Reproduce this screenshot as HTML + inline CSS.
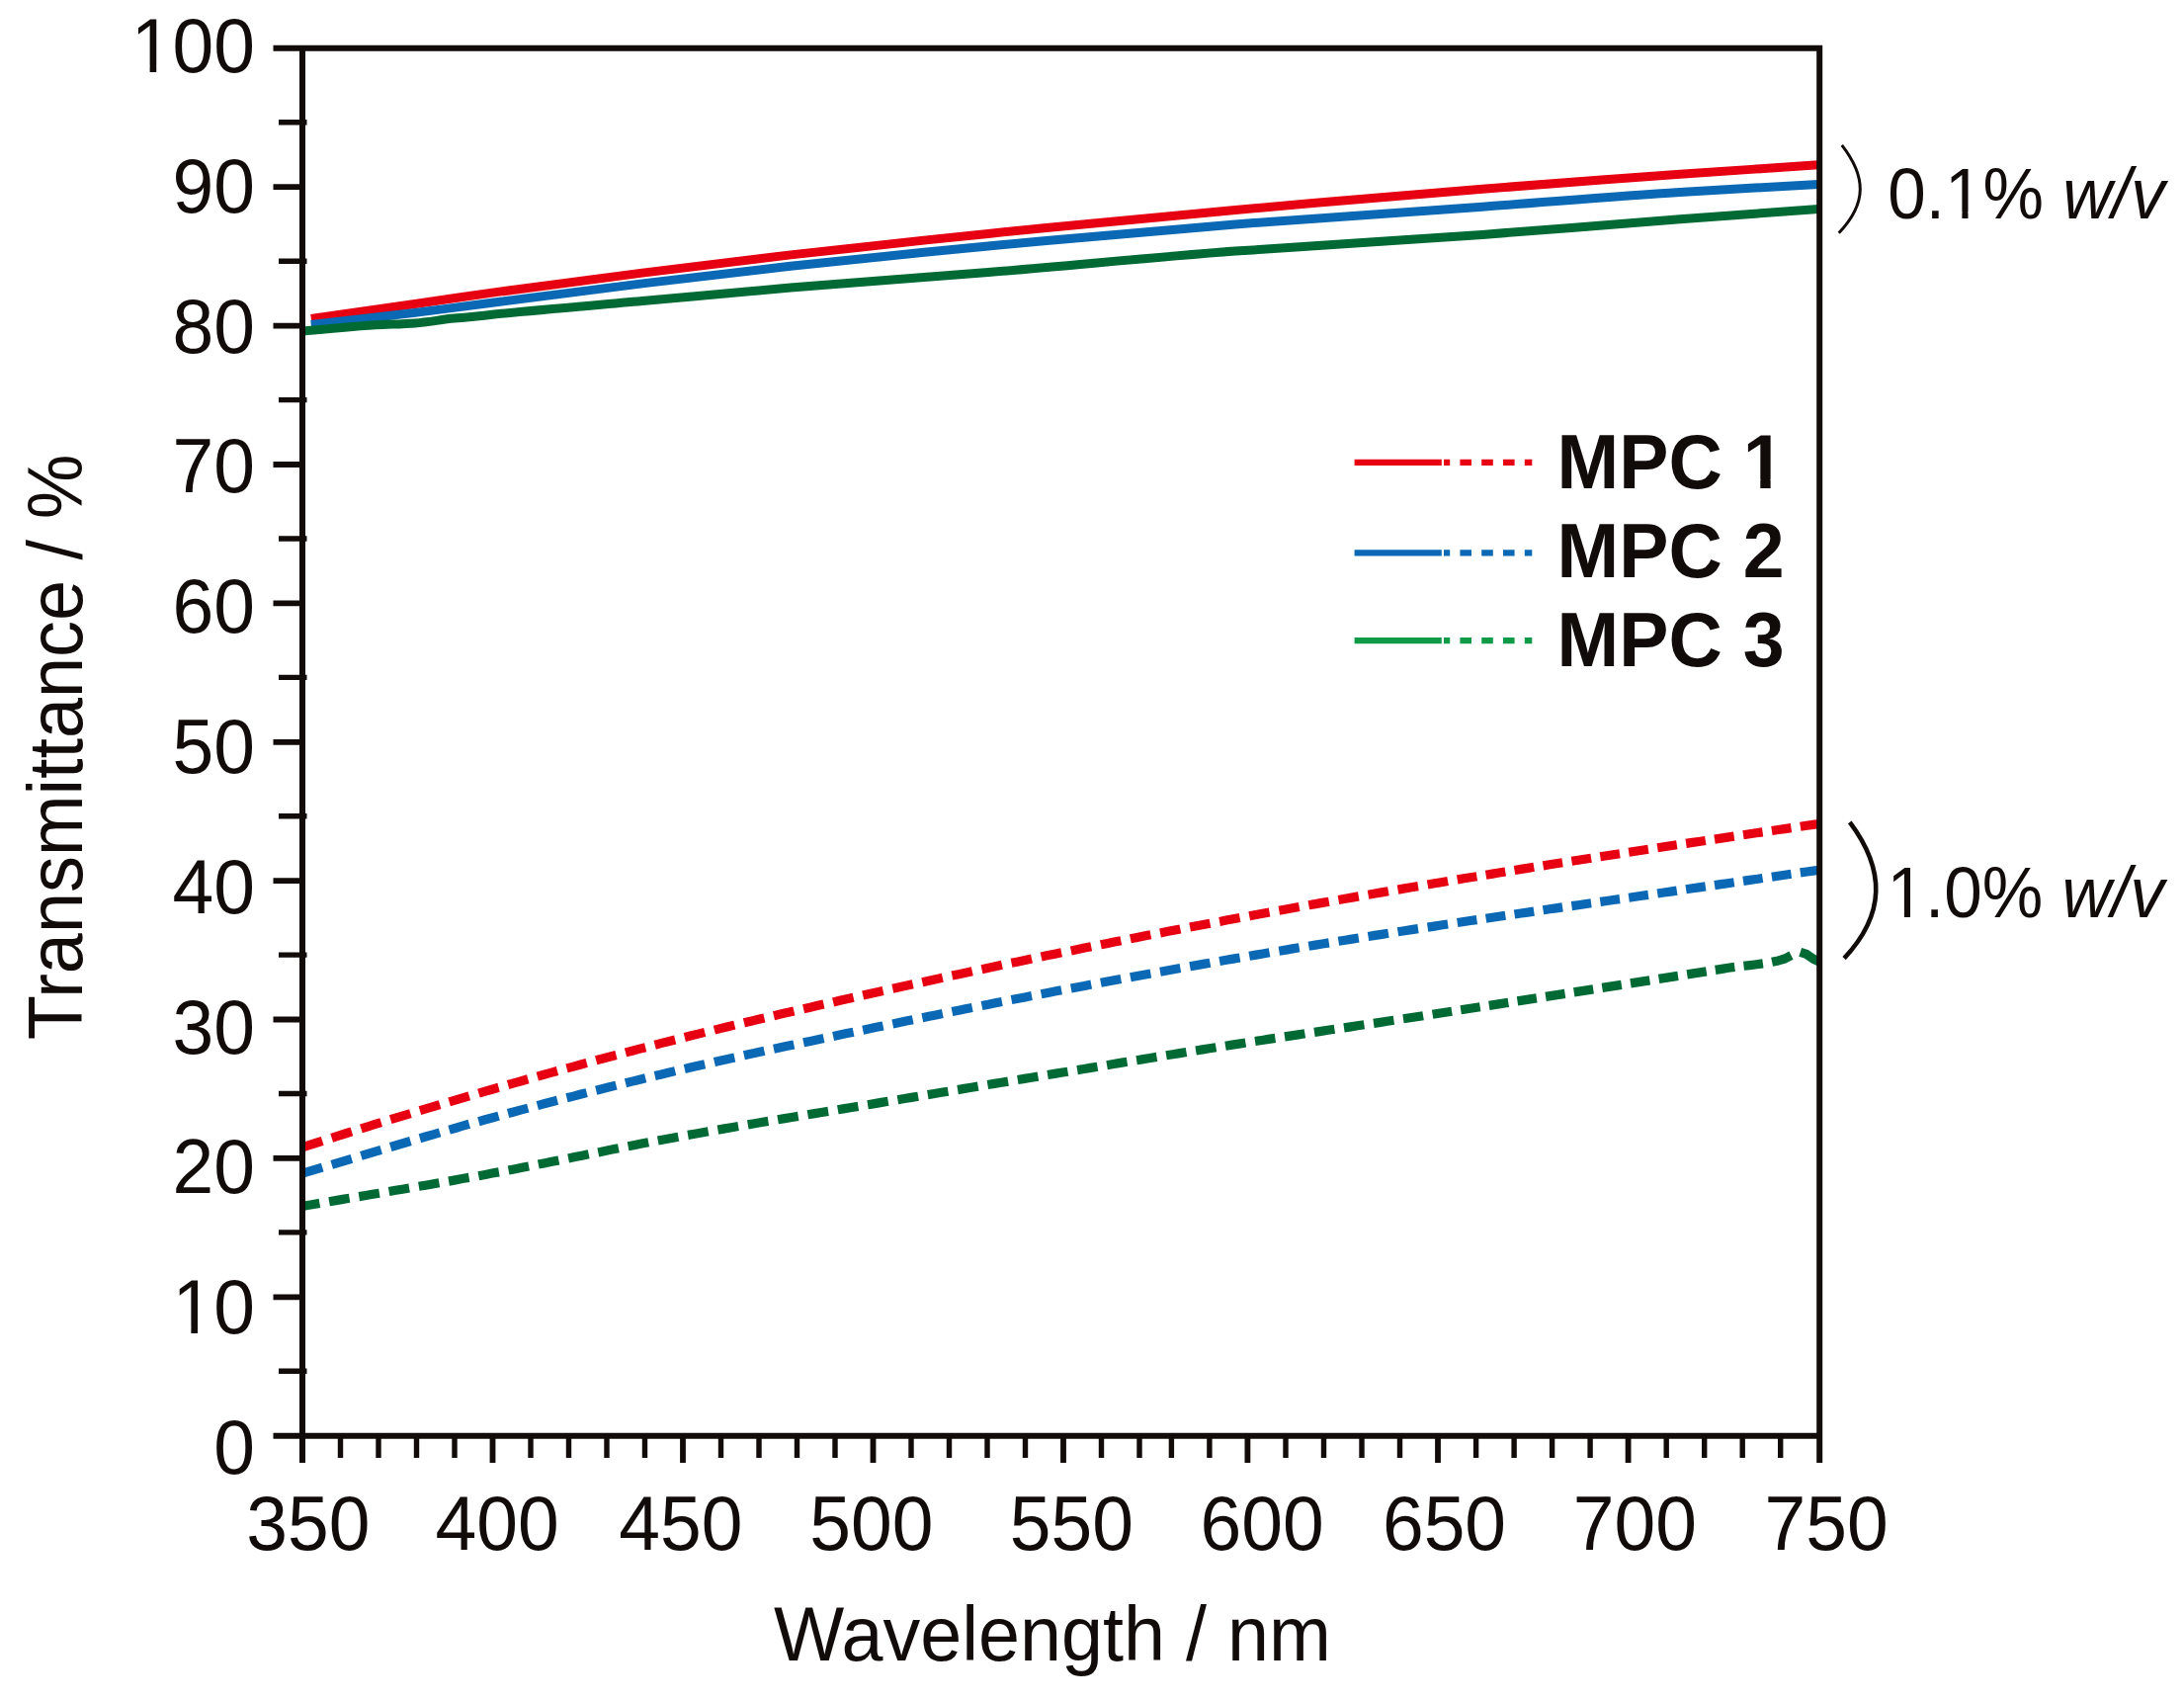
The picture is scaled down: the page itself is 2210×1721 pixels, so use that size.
<!DOCTYPE html>
<html lang="en">
<head>
<meta charset="utf-8">
<title>Transmittance vs Wavelength</title>
<style>
html,body{margin:0;padding:0;background:#fff;}
body{width:2210px;height:1721px;overflow:hidden;}
svg{display:block;}
</style>
</head>
<body>
<svg width="2210" height="1721" viewBox="0 0 2210 1721">
<rect width="2210" height="1721" fill="#fff"/>
<g fill="none" stroke-width="9">
<path d="M314.8,322.4 C349.9,317.4 384.9,312.5 420.0,307.5 C446.7,303.7 473.3,299.6 500.0,295.9 C550.0,288.9 600.0,282.4 650.0,276.1 C700.0,269.8 750.0,263.7 800.0,257.9 C866.7,250.2 933.3,243.2 1000.0,236.4 C1083.3,227.9 1166.7,220.0 1250.0,212.5 C1333.3,205.0 1416.7,197.8 1500.0,191.2 C1566.7,185.9 1633.3,181.0 1700.0,176.3 C1746.7,173.0 1793.3,170.0 1840.0,166.8 C1840.7,166.8 1841.3,166.7 1842.0,166.7" stroke="#e60012"/>
<path d="M314.8,328.5 C349.9,324.5 384.9,320.7 420.0,316.4 C446.7,313.1 473.3,309.4 500.0,306.0 C550.0,299.5 600.0,293.0 650.0,286.9 C700.0,280.8 750.0,274.8 800.0,269.3 C866.7,261.9 933.3,255.4 1000.0,249.0 C1083.3,241.0 1166.7,233.5 1250.0,226.9 C1333.3,220.3 1416.7,215.2 1500.0,209.2 C1566.7,204.4 1633.3,198.7 1700.0,194.5 C1746.7,191.5 1793.3,189.2 1840.0,186.6 C1840.7,186.6 1841.3,186.5 1842.0,186.5" stroke="#0b68b4"/>
<path d="M308.0,334.7 C310.3,334.5 312.5,334.4 314.8,334.2 C336.5,332.6 358.3,330.1 380.0,328.8 C393.3,328.0 406.7,328.0 420.0,326.9 C433.3,325.8 446.7,323.4 460.0,322.1 C466.7,321.4 473.3,320.9 480.0,320.2 C486.7,319.5 493.3,318.8 500.0,318.1 C550.0,312.9 600.0,309.1 650.0,304.6 C700.0,300.1 750.0,295.3 800.0,291.0 C866.7,285.3 933.3,280.9 1000.0,275.5 C1083.3,268.7 1166.7,260.4 1250.0,254.1 C1333.3,247.8 1416.7,243.5 1500.0,237.4 C1566.7,232.5 1633.3,226.8 1700.0,221.8 C1746.7,218.3 1793.3,215.0 1840.0,211.6 C1840.7,211.6 1841.3,211.5 1842.0,211.5" stroke="#006934"/>
</g>
<g fill="none" stroke-width="9.2" stroke-linejoin="round">
<path d="M306.0,1160.8 L312.7,1158.6 L319.5,1156.5 L326.2,1154.3M335.7,1151.3 L342.5,1149.1 L349.2,1147.0 L355.9,1144.9M365.4,1141.9 L372.2,1139.8 L378.9,1137.7 L385.7,1135.7M395.2,1132.7 L401.9,1130.7 L408.7,1128.6 L415.4,1126.6M424.9,1123.7 L431.6,1121.7 L438.4,1119.6 L445.1,1117.6M454.6,1114.8 L461.4,1112.8 L468.1,1110.8 L474.8,1108.9M484.4,1106.1 L491.1,1104.1 L497.8,1102.2 L504.6,1100.3M514.1,1097.5 L520.8,1095.6 L527.6,1093.7 L534.3,1091.8M543.8,1089.1 L550.5,1087.3 L557.3,1085.4 L564.0,1083.5M573.5,1080.9 L580.3,1079.1 L587.0,1077.2 L593.7,1075.4M603.2,1072.8 L610.0,1071.0 L616.7,1069.2 L623.5,1067.5M633.0,1064.9 L639.7,1063.2 L646.5,1061.4 L653.2,1059.7M662.7,1057.2 L669.5,1055.4 L676.3,1053.7 L683.2,1052.0M692.8,1049.5 L699.6,1047.8 L706.4,1046.1 L713.2,1044.4M722.9,1042.1 L729.7,1040.4 L736.5,1038.8 L743.3,1037.1M752.9,1034.8 L759.7,1033.2 L766.6,1031.6 L773.4,1030.0M783.0,1027.7 L789.8,1026.1 L796.6,1024.6 L803.4,1023.0M813.1,1020.8 L819.9,1019.2 L826.7,1017.6 L833.5,1016.1M843.1,1013.9 L849.9,1012.3 L856.8,1010.8 L863.6,1009.2M873.2,1007.1 L880.0,1005.5 L886.8,1004.0 L893.6,1002.5M903.3,1000.3 L910.1,998.8 L916.9,997.3 L923.7,995.8M933.3,993.7 L940.1,992.2 L947.0,990.7 L953.8,989.2M963.4,987.1 L970.2,985.7 L977.0,984.2 L983.8,982.7M993.5,980.7 L1000.3,979.2 L1007.1,977.8 L1013.9,976.3M1023.5,974.3 L1030.3,972.9 L1037.2,971.5 L1044.0,970.0M1053.6,968.1 L1060.4,966.6 L1067.3,965.2 L1074.1,963.8M1083.8,961.9 L1090.6,960.5 L1097.4,959.1 L1104.2,957.7M1113.9,955.8 L1120.7,954.4 L1127.5,953.0 L1134.3,951.7M1143.9,949.8 L1150.7,948.4 L1157.6,947.1 L1164.4,945.8M1174.0,943.9 L1180.8,942.6 L1187.6,941.3 L1194.4,939.9M1204.1,938.1 L1210.9,936.8 L1217.7,935.5 L1224.5,934.2M1234.1,932.4 L1240.9,931.1 L1247.8,929.8 L1254.6,928.5M1264.2,926.8 L1271.0,925.5 L1277.8,924.2 L1284.6,923.0M1294.3,921.2 L1301.1,920.0 L1307.9,918.8 L1314.7,917.5M1324.3,915.8 L1331.1,914.6 L1338.0,913.4 L1344.8,912.2M1354.4,910.5 L1361.2,909.3 L1368.0,908.1 L1374.8,906.9M1384.5,905.2 L1391.3,904.0 L1398.1,902.9 L1404.9,901.7M1414.5,900.1 L1421.3,898.9 L1428.2,897.7 L1435.0,896.6M1444.6,895.0 L1451.4,893.8 L1458.2,892.7 L1465.1,891.5M1474.7,889.9 L1481.3,888.8 L1487.8,887.7 L1494.4,886.7M1503.6,885.2 L1510.2,884.1 L1516.7,883.0 L1523.3,882.0M1532.5,880.5 L1539.1,879.4 L1545.7,878.4 L1552.2,877.3M1561.5,875.9 L1568.0,874.8 L1574.6,873.8 L1581.1,872.8M1590.4,871.3 L1597.0,870.3 L1603.5,869.3 L1610.1,868.2M1619.3,866.8 L1625.9,865.8 L1632.4,864.7 L1639.0,863.7M1648.2,862.3 L1654.8,861.3 L1661.4,860.3 L1667.9,859.3M1677.2,857.8 L1683.7,856.8 L1690.3,855.8 L1696.8,854.8M1706.1,853.4 L1712.7,852.4 L1719.2,851.5 L1725.8,850.5M1735.0,849.1 L1741.6,848.1 L1748.1,847.1 L1754.7,846.1M1764.0,844.8 L1770.5,843.8 L1777.1,842.8 L1783.6,841.9M1792.9,840.5 L1799.4,839.5 L1806.0,838.6 L1812.5,837.6M1821.8,836.3 L1828.2,835.3 L1834.6,834.4 L1841.0,833.5" stroke="#e60012"/>
<path d="M306.0,1187.1 L312.7,1185.1 L319.5,1183.1 L326.2,1181.1M335.7,1178.3 L342.5,1176.3 L349.2,1174.3 L355.9,1172.3M365.4,1169.4 L372.2,1167.4 L378.9,1165.4 L385.7,1163.4M395.2,1160.5 L401.9,1158.5 L408.7,1156.5 L415.4,1154.5M424.9,1151.7 L431.6,1149.8 L438.4,1147.8 L445.1,1145.8M454.6,1143.1 L461.4,1141.2 L468.1,1139.2 L474.8,1137.3M484.4,1134.7 L491.1,1132.8 L497.8,1131.0 L504.6,1129.1M514.1,1126.5 L520.8,1124.7 L527.6,1122.9 L534.3,1121.1M543.8,1118.6 L550.5,1116.8 L557.3,1115.0 L564.0,1113.3M573.5,1110.8 L580.3,1109.1 L587.0,1107.3 L593.7,1105.6M603.2,1103.2 L610.0,1101.5 L616.7,1099.8 L623.5,1098.1M633.0,1095.8 L639.7,1094.1 L646.5,1092.5 L653.2,1090.8M662.7,1088.5 L669.5,1086.9 L676.3,1085.3 L683.2,1083.6M692.8,1081.4 L699.6,1079.8 L706.4,1078.2 L713.2,1076.7M722.9,1074.5 L729.7,1072.9 L736.5,1071.4 L743.3,1069.9M752.9,1067.8 L759.7,1066.3 L766.6,1064.8 L773.4,1063.3M783.0,1061.2 L789.8,1059.8 L796.6,1058.3 L803.4,1056.9M813.1,1054.8 L819.9,1053.4 L826.7,1051.9 L833.5,1050.5M843.1,1048.5 L849.9,1047.0 L856.8,1045.6 L863.6,1044.2M873.2,1042.2 L880.0,1040.8 L886.8,1039.3 L893.6,1037.9M903.3,1035.9 L910.1,1034.5 L916.9,1033.1 L923.7,1031.7M933.3,1029.7 L940.1,1028.3 L947.0,1026.9 L953.8,1025.5M963.4,1023.6 L970.2,1022.2 L977.0,1020.8 L983.8,1019.5M993.5,1017.6 L1000.3,1016.2 L1007.1,1014.8 L1013.9,1013.5M1023.5,1011.6 L1030.3,1010.3 L1037.2,1008.9 L1044.0,1007.6M1053.6,1005.7 L1060.4,1004.4 L1067.3,1003.1 L1074.1,1001.8M1083.8,1000.0 L1090.6,998.7 L1097.4,997.4 L1104.2,996.1M1113.9,994.3 L1120.7,993.0 L1127.5,991.7 L1134.3,990.5M1143.9,988.7 L1150.7,987.4 L1157.6,986.2 L1164.4,985.0M1174.0,983.2 L1180.8,982.0 L1187.6,980.7 L1194.4,979.5M1204.1,977.8 L1210.9,976.6 L1217.7,975.4 L1224.5,974.2M1234.1,972.5 L1240.9,971.3 L1247.8,970.1 L1254.6,969.0M1264.2,967.3 L1271.0,966.1 L1277.8,965.0 L1284.6,963.8M1294.3,962.2 L1301.1,961.1 L1307.9,959.9 L1314.7,958.8M1324.3,957.2 L1331.1,956.1 L1338.0,955.0 L1344.8,953.9M1354.4,952.3 L1361.2,951.2 L1368.0,950.1 L1374.8,949.0M1384.5,947.5 L1391.3,946.4 L1398.1,945.4 L1404.9,944.3M1414.5,942.8 L1421.3,941.7 L1428.2,940.6 L1435.0,939.6M1444.6,938.1 L1451.4,937.1 L1458.2,936.0 L1465.1,935.0M1474.7,933.5 L1481.3,932.5 L1487.8,931.5 L1494.4,930.6M1503.6,929.2 L1510.2,928.2 L1516.7,927.3 L1523.3,926.3M1532.5,925.0 L1539.1,924.0 L1545.7,923.1 L1552.2,922.1M1561.5,920.8 L1568.0,919.8 L1574.6,918.9 L1581.1,917.9M1590.4,916.6 L1597.0,915.7 L1603.5,914.7 L1610.1,913.8M1619.3,912.4 L1625.9,911.5 L1632.4,910.5 L1639.0,909.6M1648.2,908.2 L1654.8,907.3 L1661.4,906.3 L1667.9,905.4M1677.2,904.0 L1683.7,903.0 L1690.3,902.1 L1696.8,901.1M1706.1,899.8 L1712.7,898.8 L1719.2,897.9 L1725.8,896.9M1735.0,895.6 L1741.6,894.6 L1748.1,893.7 L1754.7,892.7M1764.0,891.4 L1770.5,890.4 L1777.1,889.5 L1783.6,888.5M1792.9,887.2 L1799.4,886.2 L1806.0,885.2 L1812.5,884.3M1821.8,882.9 L1828.2,882.0 L1834.6,881.1 L1841.0,880.2" stroke="#0b68b4"/>
<path d="M305.0,1220.6 L311.1,1219.5 L317.2,1218.5 L323.4,1217.4M333.1,1215.8 L339.9,1214.6 L346.8,1213.4 L353.6,1212.3M363.3,1210.6 L370.2,1209.5 L377.0,1208.3 L383.9,1207.2M393.6,1205.5 L400.4,1204.3 L407.3,1203.2 L414.1,1202.0M423.8,1200.3 L430.7,1199.2 L437.5,1198.0 L444.4,1196.8M454.1,1195.1 L460.9,1193.9 L467.8,1192.6 L474.6,1191.4M484.3,1189.7 L491.2,1188.4 L498.0,1187.1 L504.9,1185.9M514.6,1184.0 L521.4,1182.7 L528.3,1181.3 L535.1,1180.0M544.8,1178.1 L551.7,1176.7 L558.5,1175.3 L565.4,1173.9M575.1,1172.0 L581.9,1170.6 L588.8,1169.2 L595.7,1167.8M605.3,1165.9 L612.2,1164.5 L619.1,1163.1 L625.9,1161.7M635.6,1159.8 L642.4,1158.5 L649.3,1157.1 L656.2,1155.8M665.8,1154.0 L672.7,1152.7 L679.6,1151.4 L686.4,1150.2M696.1,1148.4 L703.0,1147.2 L709.9,1146.0 L716.7,1144.8M726.4,1143.1 L733.3,1141.9 L740.2,1140.7 L747.1,1139.5M756.8,1137.9 L763.6,1136.7 L770.5,1135.5 L777.4,1134.4M787.1,1132.8 L794.0,1131.6 L800.9,1130.5 L807.7,1129.4M817.4,1127.8 L824.3,1126.6 L831.2,1125.5 L838.1,1124.4M847.8,1122.8 L854.6,1121.6 L861.5,1120.5 L868.4,1119.4M878.1,1117.7 L885.0,1116.6 L891.9,1115.4 L898.7,1114.3M908.4,1112.7 L915.3,1111.5 L922.2,1110.4 L929.1,1109.2M938.8,1107.6 L945.6,1106.5 L952.5,1105.3 L959.4,1104.2M969.1,1102.6 L976.0,1101.4 L982.9,1100.3 L989.7,1099.1M999.4,1097.5 L1006.3,1096.4 L1013.2,1095.3 L1020.1,1094.1M1029.8,1092.5 L1036.6,1091.4 L1043.5,1090.3 L1050.4,1089.1M1060.1,1087.5 L1066.9,1086.4 L1073.7,1085.3 L1080.5,1084.2M1090.1,1082.6 L1096.9,1081.5 L1103.7,1080.4 L1110.5,1079.2M1120.1,1077.7 L1126.9,1076.5 L1133.7,1075.4 L1140.5,1074.3M1150.1,1072.7 L1156.9,1071.6 L1163.7,1070.5 L1170.5,1069.4M1180.1,1067.8 L1186.9,1066.7 L1193.7,1065.6 L1200.5,1064.5M1210.1,1063.0 L1216.9,1061.9 L1223.7,1060.8 L1230.5,1059.7M1240.0,1058.2 L1246.8,1057.1 L1253.6,1056.1 L1260.4,1055.0M1270.0,1053.5 L1276.8,1052.5 L1283.6,1051.4 L1290.4,1050.4M1300.0,1048.9 L1306.8,1047.9 L1313.6,1046.9 L1320.4,1045.8M1330.0,1044.4 L1336.8,1043.4 L1343.6,1042.3 L1350.4,1041.3M1360.0,1039.9 L1366.8,1038.9 L1373.6,1037.8 L1380.4,1036.8M1390.0,1035.4 L1396.8,1034.4 L1403.6,1033.3 L1410.4,1032.3M1420.0,1030.8 L1426.7,1029.8 L1433.4,1028.8 L1440.1,1027.7M1449.6,1026.3 L1456.1,1025.3 L1462.6,1024.3 L1469.1,1023.3M1478.2,1021.8 L1484.7,1020.8 L1491.2,1019.8 L1497.7,1018.8M1506.8,1017.4 L1513.3,1016.4 L1519.8,1015.4 L1526.3,1014.4M1535.5,1012.9 L1542.0,1011.9 L1548.4,1010.9 L1554.9,1009.9M1564.1,1008.4 L1570.6,1007.4 L1577.1,1006.4 L1583.6,1005.4M1592.7,1003.9 L1599.2,1002.9 L1605.7,1001.9 L1612.2,1000.9M1621.3,999.4 L1627.8,998.4 L1634.3,997.4 L1640.8,996.4M1650.0,994.9 L1656.4,993.9 L1662.9,992.9 L1669.4,991.9M1678.6,990.4 L1685.1,989.4 L1691.6,988.4 L1698.0,987.4M1707.2,985.9 L1713.7,984.9 L1720.2,983.9 L1726.7,982.9M1735.8,981.4 L1742.3,980.4 L1748.8,979.3 L1755.3,978.4M1764.5,977.3 L1770.9,976.6 L1777.4,975.8 L1783.9,974.9M1793.1,973.3 L1799.6,971.9 L1806.1,970.0 L1812.5,966.7M1821.7,963.3 L1828.1,965.4 L1834.6,970.0 L1841.0,973.0" stroke="#006934"/>
</g>
<g stroke="#110b09" fill="none">
<path d="M276.5,48.8 H1841.2 V1480.0" stroke-width="6.0" stroke-linejoin="miter"/>
<path d="M306.0,48.8 V1480.0" stroke-width="6.0"/>
<path d="M276.5,1452.7 H1841.2" stroke-width="6.0"/>
<path d="M276.5,189.2H306.0M276.5,329.6H306.0M276.5,470.0H306.0M276.5,610.4H306.0M276.5,750.8H306.0M276.5,891.1H306.0M276.5,1031.5H306.0M276.5,1171.9H306.0M276.5,1312.3H306.0" stroke-width="5.8"/>
<path d="M282,123.8H310.5M282,264.2H310.5M282,404.6H310.5M282,545.0H310.5M282,685.4H310.5M282,825.7H310.5M282,966.1H310.5M282,1106.5H310.5M282,1246.9H310.5M282,1387.3H310.5" stroke-width="5.4"/>
<path d="M498.5,1452.7V1480M691.0,1452.7V1480M883.5,1452.7V1480M1076.0,1452.7V1480M1262.4,1452.7V1480M1455.0,1452.7V1480M1647.6,1452.7V1480" stroke-width="5.8"/>
<path d="M344.5,1452.7V1475M383.0,1452.7V1475M421.5,1452.7V1475M460.0,1452.7V1475M537.0,1452.7V1475M575.5,1452.7V1475M614.0,1452.7V1475M652.5,1452.7V1475M729.5,1452.7V1475M768.0,1452.7V1475M806.5,1452.7V1475M845.0,1452.7V1475M922.0,1452.7V1475M960.5,1452.7V1475M999.0,1452.7V1475M1037.5,1452.7V1475M1114.5,1452.7V1475M1153.0,1452.7V1475M1185.4,1452.7V1475M1223.9,1452.7V1475M1301.0,1452.7V1475M1339.5,1452.7V1475M1378.0,1452.7V1475M1416.5,1452.7V1475M1493.6,1452.7V1475M1532.1,1452.7V1475M1570.6,1452.7V1475M1609.1,1452.7V1475M1686.2,1452.7V1475M1724.7,1452.7V1475M1763.2,1452.7V1475M1801.7,1452.7V1475" stroke-width="5.4"/>
<path d="M1863.8,146.8 C1888,178 1890,205 1860.7,235.7" stroke-width="3"/>
<path d="M1871.8,831.8 C1908,880 1908,925 1866.1,969.6" stroke-width="4.6"/>
</g>
<path d="M1370.6,467.9H1458.8" stroke="#e60012" stroke-width="6.2" fill="none"/>
<path d="M1461,467.9H1550.3" stroke="#e60012" stroke-width="6.2" stroke-dasharray="11.6 10.2" stroke-dashoffset="5.4" fill="none"/>
<path d="M1370.6,559.3H1458.8" stroke="#0b68b4" stroke-width="6.2" fill="none"/>
<path d="M1461,559.3H1550.3" stroke="#0b68b4" stroke-width="6.2" stroke-dasharray="11.6 10.2" stroke-dashoffset="5.4" fill="none"/>
<path d="M1370.6,648.1H1458.8" stroke="#0f9a48" stroke-width="6.2" fill="none"/>
<path d="M1461,648.1H1550.3" stroke="#0f9a48" stroke-width="6.2" stroke-dasharray="11.6 10.2" stroke-dashoffset="5.4" fill="none"/>
<g fill="#110b09" font-family="'Liberation Sans', Arial, sans-serif">
<text transform="translate(258.0,1491.0) scale(1.0000,1.0420)" font-size="75" text-anchor="end">0</text>
<text transform="translate(258.0,1349.2) scale(1.0000,1.0420)" font-size="75" text-anchor="end">10</text>
<text transform="translate(258.0,1207.4) scale(1.0000,1.0420)" font-size="75" text-anchor="end">20</text>
<text transform="translate(258.0,1065.6) scale(1.0000,1.0420)" font-size="75" text-anchor="end">30</text>
<text transform="translate(258.0,923.8) scale(1.0000,1.0420)" font-size="75" text-anchor="end">40</text>
<text transform="translate(258.0,782.0) scale(1.0000,1.0420)" font-size="75" text-anchor="end">50</text>
<text transform="translate(258.0,640.2) scale(1.0000,1.0420)" font-size="75" text-anchor="end">60</text>
<text transform="translate(258.0,498.4) scale(1.0000,1.0420)" font-size="75" text-anchor="end">70</text>
<text transform="translate(258.0,356.6) scale(1.0000,1.0420)" font-size="75" text-anchor="end">80</text>
<text transform="translate(258.0,214.8) scale(1.0000,1.0420)" font-size="75" text-anchor="end">90</text>
<text transform="translate(258.0,73.0) scale(1.0000,1.0420)" font-size="75" text-anchor="end">100</text>
<text transform="translate(311.8,1568.3) scale(1.0000,1.0420)" font-size="75" text-anchor="middle">350</text>
<text transform="translate(503.1,1568.3) scale(1.0000,1.0420)" font-size="75" text-anchor="middle">400</text>
<text transform="translate(688.8,1568.3) scale(1.0000,1.0420)" font-size="75" text-anchor="middle">450</text>
<text transform="translate(881.8,1568.3) scale(1.0000,1.0420)" font-size="75" text-anchor="middle">500</text>
<text transform="translate(1084.4,1568.3) scale(1.0000,1.0420)" font-size="75" text-anchor="middle">550</text>
<text transform="translate(1277.1,1568.3) scale(1.0000,1.0420)" font-size="75" text-anchor="middle">600</text>
<text transform="translate(1461.5,1568.3) scale(1.0000,1.0420)" font-size="75" text-anchor="middle">650</text>
<text transform="translate(1654.4,1568.3) scale(1.0000,1.0420)" font-size="75" text-anchor="middle">700</text>
<text transform="translate(1848.1,1568.3) scale(1.0000,1.0420)" font-size="75" text-anchor="middle">750</text>
<text transform="translate(1065.0,1680.0) scale(1.0070,1.0300)" font-size="75" text-anchor="middle">Wavelength / nm</text>
<text transform="translate(83.3,755.9) rotate(-90) scale(0.9850,1.0400)" font-size="75" text-anchor="middle">Transmittance / %</text>
<text transform="translate(1575.6,493.8) scale(0.9900,1.0350)" font-size="76" text-anchor="start" font-weight="bold">MPC 1</text>
<text transform="translate(1575.6,584.2) scale(0.9900,1.0350)" font-size="76" text-anchor="start" font-weight="bold">MPC 2</text>
<text transform="translate(1575.6,673.5) scale(0.9900,1.0350)" font-size="76" text-anchor="start" font-weight="bold">MPC 3</text>
<text transform="translate(1910.2,221.4) scale(0.9885,1.0300)" font-size="70" text-anchor="start">0.1% <tspan font-style="italic">w/v</tspan></text>
<text transform="translate(1909.5,928.2) scale(0.9885,1.0300)" font-size="70" text-anchor="start">1.0% <tspan font-style="italic">w/v</tspan></text>
</g>
<g fill="#fff">
<rect x="137.00" y="66.50" width="14.61" height="7.50"/>
<rect x="158.24" y="66.50" width="13.76" height="7.50"/>
<rect x="179.00" y="1342.50" width="14.37" height="7.50"/>
<rect x="200.00" y="1342.50" width="13.50" height="7.50"/>
<rect x="1767.00" y="485.00" width="14.31" height="10.00"/>
<rect x="1791.63" y="485.00" width="13.37" height="10.00"/>
<rect x="1972.00" y="214.30" width="13.40" height="7.70"/>
<rect x="1991.50" y="214.30" width="12.50" height="7.70"/>
<rect x="1912.50" y="921.30" width="14.39" height="7.70"/>
<rect x="1933.01" y="921.30" width="12.99" height="7.70"/>
</g>
</svg>
</body>
</html>
